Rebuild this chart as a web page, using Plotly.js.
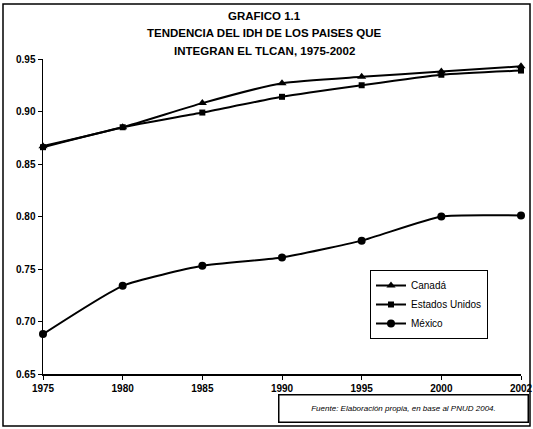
<!DOCTYPE html>
<html>
<head>
<meta charset="utf-8">
<script src="https://cdn.plot.ly/plotly-3.0.1.min.js"></script>
<style>html,body{margin:0;padding:0;background:#fff;}#chart{width:533px;height:429px;}</style>
</head>
<body>
<div id="chart"></div>
<script>
const years = ["1975", "1980", "1985", "1990", "1995", "2000", "2002"];
const canada = [0.867, 0.885, 0.908, 0.927, 0.933, 0.938, 0.943];
const estadosUnidos = [0.866, 0.885, 0.899, 0.914, 0.925, 0.935, 0.939];
const mexico = [0.688, 0.734, 0.753, 0.761, 0.777, 0.800, 0.801];
const yTicks = [0.65, 0.70, 0.75, 0.80, 0.85, 0.90, 0.95];
const titleLines = ["GRAFICO 1.1", "TENDENCIA DEL IDH DE LOS PAISES QUE", "INTEGRAN EL TLCAN, 1975-2002"];

const L = 43, R = 12, T = 59, B = 55, W = 533, H = 429;
const pw = W - L - R, ph = H - T - B;
const px = v => (v - L) / pw;
const py = v => (H - B - v) / ph;

const common = {
  type: 'scatter', mode: 'lines+markers', x: years, cliponaxis: false,
  line: {color: '#000', width: 2, shape: 'spline', smoothing: 0.5}
};
const traces = [
  Object.assign({}, common, {name: 'Canadá', y: canada,
    marker: {symbol: 'triangle-up', size: 8, color: '#000'}}),
  Object.assign({}, common, {name: 'Estados Unidos', y: estadosUnidos,
    marker: {symbol: 'square', size: 6, color: '#000'}}),
  Object.assign({}, common, {name: 'México', y: mexico,
    marker: {symbol: 'circle', size: 8, color: '#000'}})
];

const titleY = [16, 33, 50.5];
const titleAnn = titleLines.map((t, i) => ({
  xref: 'paper', yref: 'paper', x: px(264), y: py(titleY[i]),
  xanchor: 'center', yanchor: 'middle', showarrow: false,
  text: '<b>' + t + '</b>',
  font: {family: 'Liberation Sans, Arial, sans-serif', size: 11.5, color: '#000'}
}));

const layout = {
  width: W, height: H,
  margin: {l: L, r: R, t: T, b: B},
  paper_bgcolor: '#fff', plot_bgcolor: '#fff',
  font: {family: 'Liberation Sans, Arial, sans-serif', color: '#000'},
  xaxis: {
    type: 'category', range: [0, 6],
    showline: true, linecolor: '#000', linewidth: 1.5,
    ticks: 'outside', ticklen: 4, tickcolor: '#000',
    showgrid: false, zeroline: false,
    tickfont: {size: 10, weight: 'bold', color: '#000'}
  },
  yaxis: {
    range: [0.65, 0.95], tickvals: yTicks, tickformat: '.2f',
    showline: true, linecolor: '#000', linewidth: 1.5,
    ticks: 'outside', ticklen: 4, tickcolor: '#000',
    showgrid: false, zeroline: false,
    tickfont: {size: 10, weight: 'bold', color: '#000'}
  },
  showlegend: true,
  legend: {
    x: px(370), y: py(270), xanchor: 'left', yanchor: 'top',
    bordercolor: '#000', borderwidth: 1, bgcolor: '#fff',
    font: {size: 10, color: '#000'}, tracegroupgap: 0, itemwidth: 30
  },
  shapes: [
    {type: 'rect', xref: 'paper', yref: 'paper',
     x0: px(3), x1: px(530), y0: py(426), y1: py(4),
     line: {color: '#000', width: 1.5}, fillcolor: 'rgba(0,0,0,0)'}
  ],
  annotations: titleAnn.concat([
    {xref: 'paper', yref: 'paper', x: px(403), y: py(408),
     xanchor: 'center', yanchor: 'middle', showarrow: false,
     text: '<i>Fuente: Elaboración propia, en base al PNUD 2004.</i>',
     font: {size: 8, color: '#000'},
     width: 246, height: 24, bordercolor: '#000', borderwidth: 1.5, borderpad: 1, bgcolor: '#fff'}
  ])
};

Plotly.newPlot('chart', traces, layout, {displayModeBar: false, staticPlot: true});
</script>
</body>
</html>
